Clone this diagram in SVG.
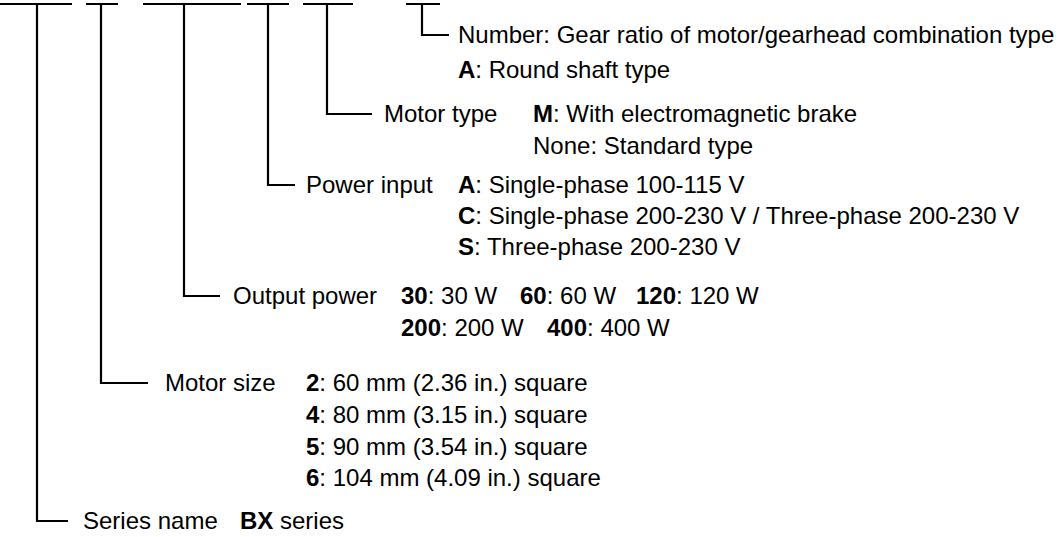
<svg xmlns="http://www.w3.org/2000/svg" width="1061" height="537" viewBox="0 0 1061 537">
<style>
text{font-family:"Liberation Sans",Arial,sans-serif;font-size:24px;fill:#000}
.b{font-weight:bold}
.ln{fill:none;stroke:#000;stroke-width:2.2}
</style>
<rect width="1061" height="537" fill="#fff"/>
<g id="connectors">
<path class="ln" d="M0 4H72M86 4H118M143 4H241M247 4H289M303 4H353M406 4H440"/>
<path class="ln" d="M37 4V521H68"/>
<path class="ln" d="M101 4V383H148"/>
<path class="ln" d="M184 4V296H220"/>
<path class="ln" d="M268 4V185H295"/>
<path class="ln" d="M327 4V114H372"/>
<path class="ln" d="M422 4V35H449"/>
</g>
<g id="gear">
<text x="458" y="43">Number: Gear ratio of motor/gearhead combination type</text>
<text x="458" y="78"><tspan class="b">A</tspan>: Round shaft type</text>
</g>
<g id="motortype">
<text x="384" y="122">Motor type</text>
<text x="533" y="122"><tspan class="b">M</tspan>: With electromagnetic brake</text>
<text x="533" y="154">None: Standard type</text>
</g>
<g id="powerinput">
<text x="306" y="193">Power input</text>
<text x="458" y="193"><tspan class="b">A</tspan>: Single-phase 100-115 V</text>
<text x="458" y="224"><tspan class="b">C</tspan>: Single-phase 200-230 V / Three-phase 200-230 V</text>
<text x="458" y="255"><tspan class="b">S</tspan>: Three-phase 200-230 V</text>
</g>
<g id="outputpower">
<text x="233" y="304">Output power</text>
<text y="304"><tspan x="401" class="b">30</tspan>: 30 W<tspan x="520" class="b">60</tspan>: 60 W<tspan x="636" class="b">120</tspan>: 120 W</text>
<text y="336"><tspan x="401" class="b">200</tspan>: 200 W<tspan x="547" class="b">400</tspan>: 400 W</text>
</g>
<g id="motorsize">
<text x="165" y="391">Motor size</text>
<text x="306" y="391"><tspan class="b">2</tspan>: 60 mm (2.36 in.) square</text>
<text x="306" y="423"><tspan class="b">4</tspan>: 80 mm (3.15 in.) square</text>
<text x="306" y="455"><tspan class="b">5</tspan>: 90 mm (3.54 in.) square</text>
<text x="306" y="486"><tspan class="b">6</tspan>: 104 mm (4.09 in.) square</text>
</g>
<g id="series">
<text x="83" y="529">Series name</text>
<text x="240" y="529"><tspan class="b">BX</tspan> series</text>
</g>
</svg>
